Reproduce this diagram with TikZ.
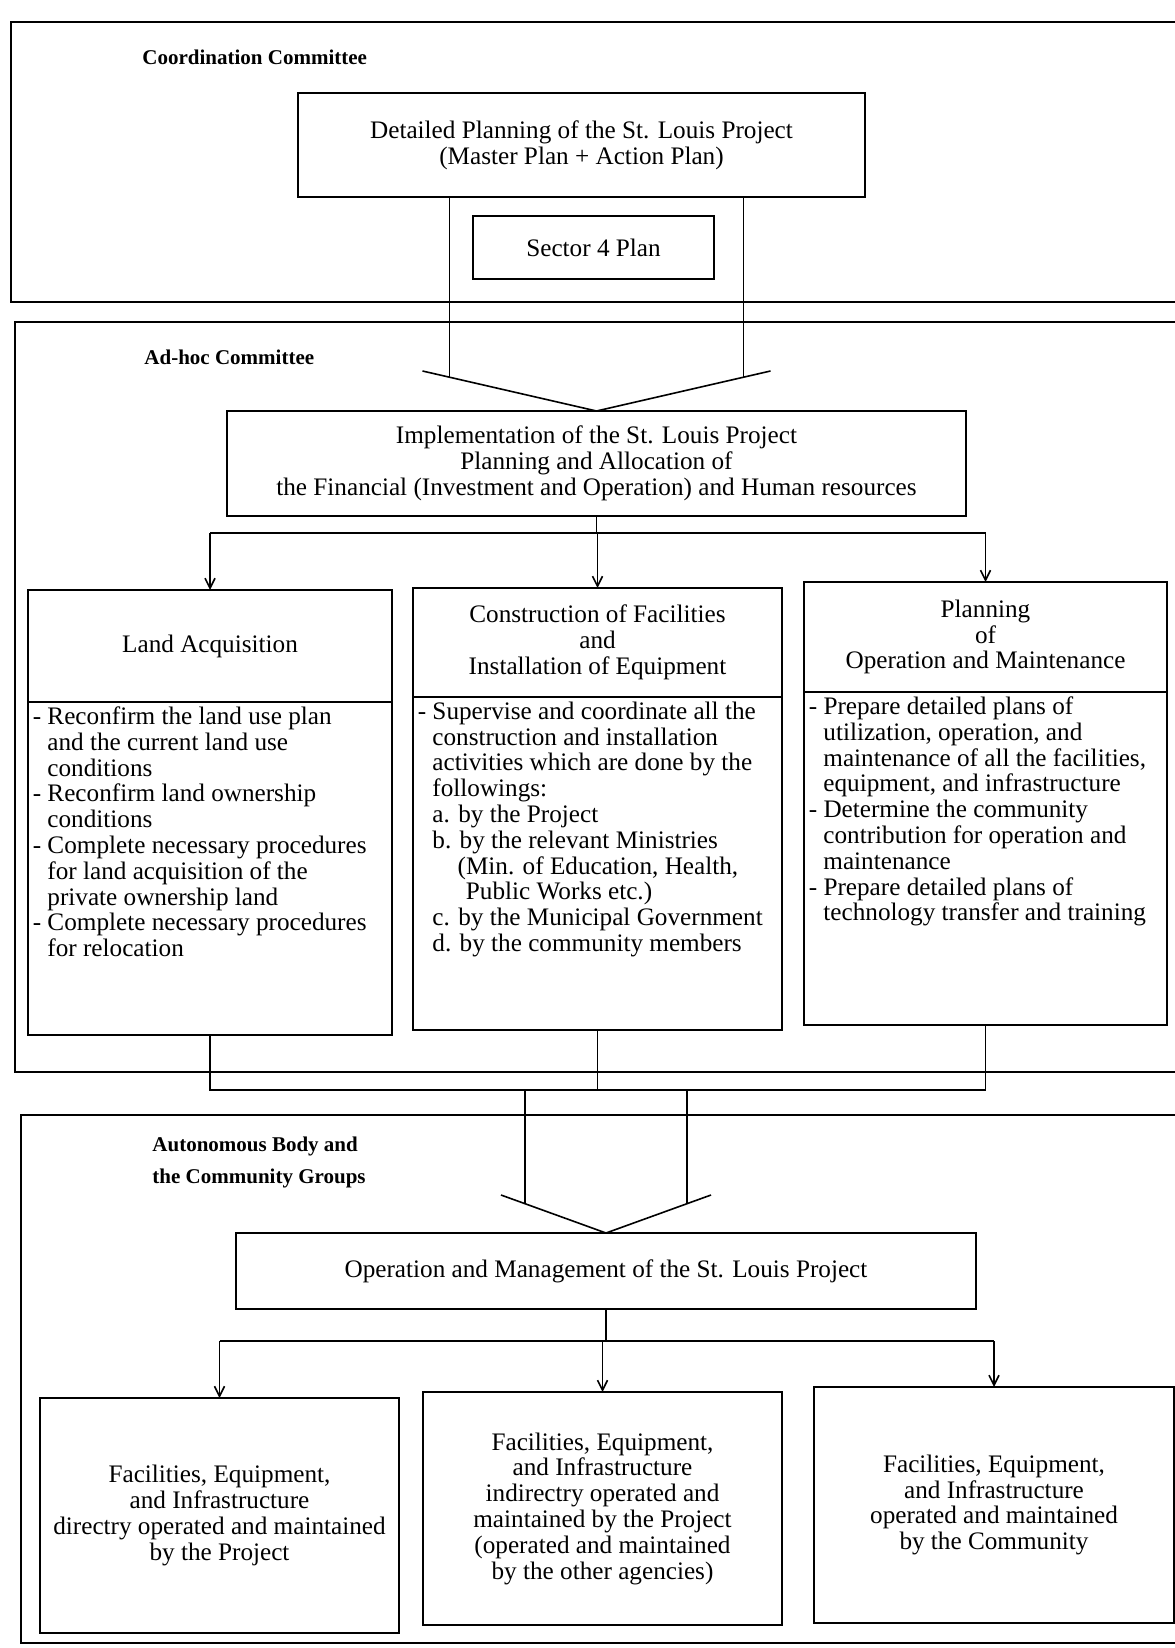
\documentclass[tikz,border=0pt]{standalone}
\usepackage{fontspec}
\setmainfont{Liberation Serif}
\usetikzlibrary{arrows.meta,positioning,calc}

\newcommand{\hindent}{\hspace*{0.58em}}

\begin{document}
\begin{tikzpicture}[x=0.5pt,y=-0.5pt,line width=0.8pt,
  box/.style={draw,line width=0.9pt,align=center,inner sep=2pt,outer sep=0pt,
    font=\fontsize{12.6}{12.9}\selectfont},
  bodytext/.style={align=left,anchor=north west,inner sep=2pt,
    font=\fontsize{12.6}{12.9}\selectfont},
  grouplabel/.style={anchor=west,align=left,
    font=\bfseries\fontsize{10.5}{16}\selectfont},
  frame/.style={line width=0.9pt},
  arr/.style={-{Straight Barb[length=5pt,width=5pt]}}]

  \useasboundingbox (0,0) rectangle (1174,1648);

  % committee frames
  \draw[frame] (11,22) rectangle (1180,302);
  \draw[frame] (15,322) rectangle (1180,1072);
  \draw[frame] (21,1115) rectangle (1180,1643);

  \node[grouplabel] (cclabel) at (135,57) {Coordination Committee};
  \node[grouplabel] (adhoclabel) at (137,357) {Ad-hoc Committee};
  \node[grouplabel] (autolabel) at (145,1162) {Autonomous Body and\\the Community Groups};

  % planning level
  \node[box,minimum width=283.5pt,minimum height=52pt] (dp) at (581.5,145)
    {Detailed Planning of the St. Louis Project\\(Master Plan + Action Plan)};
  \node[box,minimum width=120.5pt,minimum height=31.5pt] (sector) at (593.5,247.5) {Sector 4 Plan};

  % implementation level
  \node[box,minimum width=369.5pt,minimum height=52.5pt] (impl) at (596.5,463.5)
    {Implementation of the St. Louis Project\\Planning and Allocation of\\
     the Financial (Investment and Operation) and Human resources};

  \node[box,minimum width=182pt,minimum height=56pt] (landhead) at (210,646) {Land Acquisition};
  \node[box,minimum width=182pt,minimum height=166.5pt,below=0pt of landhead] (landbody) {};
  \node[bodytext] (landtext) at (landbody.north west)
    {- Reconfirm the land use plan\\
     \hindent and the current land use\\
     \hindent conditions\\
     - Reconfirm land ownership\\
     \hindent conditions\\
     - Complete necessary procedures\\
     \hindent for land acquisition of the\\
     \hindent private ownership land\\
     - Complete necessary procedures\\
     \hindent for relocation};

  \node[box,minimum width=184.5pt,minimum height=54.5pt] (conshead) at (597.5,642.5)
    {Construction of Facilities\\and\\Installation of Equipment};
  \node[box,minimum width=184.5pt,minimum height=166.5pt,below=0pt of conshead] (consbody) {};
  \node[bodytext] (constext) at (consbody.north west)
    {- Supervise and coordinate all the\\
     \hindent construction and installation\\
     \hindent activities which are done by the\\
     \hindent followings:\\
     \hindent a. by the Project\\
     \hindent b. by the relevant Ministries\\
     \hindent\hspace*{1em}(Min. of Education, Health,\\
     \hindent\hspace*{1.33em}Public Works etc.)\\
     \hindent c. by the Municipal Government\\
     \hindent d. by the community members};

  \node[box,minimum width=181.5pt,minimum height=55pt] (planhead) at (985.5,637)
    {Planning\\of\\Operation and Maintenance};
  \node[box,minimum width=181.5pt,minimum height=166.5pt,below=0pt of planhead] (planbody) {};
  \node[bodytext] (plantext) at (planbody.north west)
    {- Prepare detailed plans of\\
     \hindent utilization, operation, and\\
     \hindent maintenance of all the facilities,\\
     \hindent equipment, and infrastructure\\
     - Determine the community\\
     \hindent contribution for operation and\\
     \hindent maintenance\\
     - Prepare detailed plans of\\
     \hindent technology transfer and training};

  % operation level
  \node[box,minimum width=370pt,minimum height=38pt] (op) at (606,1271)
    {Operation and Management of the St. Louis Project};

  \node[box,minimum width=179.5pt,minimum height=117.5pt] (bot1) at (219.5,1515.5)
    {Facilities, Equipment,\\and Infrastructure\\directry operated and maintained\\by the Project};
  \node[box,minimum width=179.5pt,minimum height=116.5pt] (bot2) at (602.5,1508.5)
    {Facilities, Equipment,\\and Infrastructure\\indirectry operated and\\maintained by the Project\\
     (operated and maintained\\by the other agencies)};
  \node[box,minimum width=180pt,minimum height=118pt] (bot3) at (994,1505)
    {Facilities, Equipment,\\and Infrastructure\\operated and maintained\\by the Community};

  % big arrow into implementation
  \coordinate (vtip) at (impl.north);
  \coordinate (vleft) at ($(vtip)+(-174,-40)$);
  \coordinate (vright) at ($(vtip)+(174,-40)$);
  \coordinate (sleft) at ($(vtip)+(-147,-33.8)$);
  \coordinate (sright) at ($(vtip)+(147,-33.8)$);
  \draw (vleft) -- (vtip) -- (vright);
  \draw (dp.south -| sleft) -- (sleft);
  \draw (dp.south -| sright) -- (sright);

  % branches to the three tasks
  \coordinate (busa) at (0,533);
  \draw (impl.south) -- (impl.south |- busa);
  \draw (landhead.north |- busa) -- (planhead.north |- busa);
  \draw[arr] (landhead.north |- busa) -- (landhead.north);
  \draw[arr] (conshead.north |- busa) -- (conshead.north);
  \draw[arr] (planhead.north |- busa) -- (planhead.north);

  % collect the three tasks
  \coordinate (busb) at (0,1090);
  \draw (landbody.south) -- (landbody.south |- busb) -- (planbody.south |- busb) -- (planbody.south);
  \draw (consbody.south) -- (consbody.south |- busb);

  % big arrow into operation
  \coordinate (wtip) at (op.north);
  \coordinate (wleft) at ($(wtip)+(-105,-38)$);
  \coordinate (wright) at ($(wtip)+(105,-38)$);
  \coordinate (tleft) at ($(wtip)+(-81,-29.3)$);
  \coordinate (tright) at ($(wtip)+(81,-29.3)$);
  \draw (wleft) -- (wtip) -- (wright);
  \draw (busb -| tleft) -- (tleft);
  \draw (busb -| tright) -- (tright);

  % branches to the three kinds of facilities
  \coordinate (busc) at (0,1341);
  \draw (op.south) -- (op.south |- busc);
  \draw (bot1.north |- busc) -- (bot3.north |- busc);
  \draw[arr] (bot1.north |- busc) -- (bot1.north);
  \draw[arr] (bot2.north |- busc) -- (bot2.north);
  \draw[arr] (bot3.north |- busc) -- (bot3.north);

\end{tikzpicture}
\end{document}
